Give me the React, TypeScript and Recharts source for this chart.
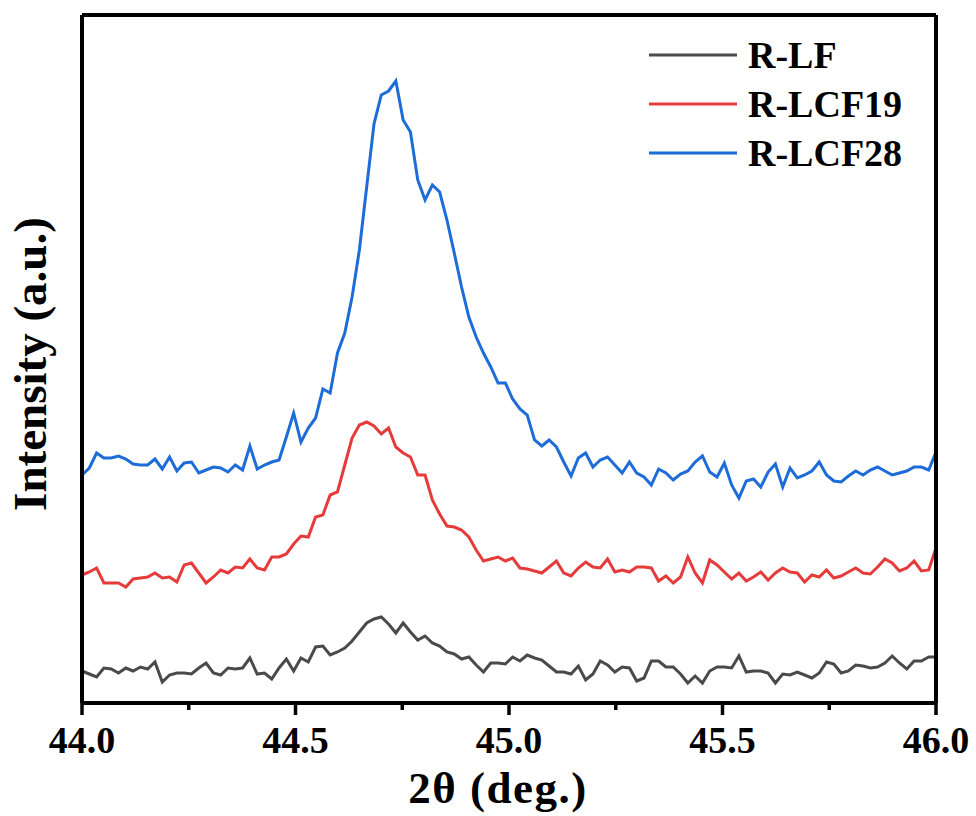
import { LineChart, Line, XAxis, YAxis } from "recharts";

// scan: 44.0 -> 46.0 deg, 118 points
const START = 44.0;
const STEP = 2 / 117;

const rLF = [
  32, 29, 26, 35, 34, 30, 35, 32, 36, 34, 41, 21, 28, 30, 30, 29, 35, 40, 30, 28,
  35, 34, 35, 45, 29, 30, 24, 35, 44, 32, 45, 41, 56, 57, 48, 51, 55, 62, 71, 80,
  84, 86, 79, 70, 80, 71, 63, 67, 60, 57, 51, 49, 44, 46, 38, 31, 40, 40, 39, 46,
  42, 48, 45, 43, 37, 31, 31, 29, 37, 23, 29, 42, 38, 31, 36, 35, 22, 25, 42, 42,
  36, 36, 29, 20, 27, 20, 32, 36, 36, 35, 47, 31, 32, 32, 30, 20, 29, 28, 31, 28,
  25, 30, 41, 39, 30, 32, 38, 37, 35, 36, 40, 47, 40, 34, 42, 42, 46, 46
];

const rLCF19 = [
  128, 131, 135, 120, 120, 120, 116, 124, 125, 126, 130, 125, 126, 121, 138, 140, 130, 120, 126, 133,
  130, 136, 135, 144, 135, 133, 146, 146, 149, 159, 167, 166, 186, 188, 208, 211, 238, 265, 278, 281,
  277, 269, 275, 256, 250, 246, 228, 228, 203, 189, 177, 176, 173, 166, 153, 142, 144, 146, 142, 145,
  135, 134, 132, 130, 136, 142, 130, 127, 135, 141, 136, 135, 144, 131, 133, 131, 136, 136, 135, 122,
  127, 120, 126, 146, 130, 120, 143, 138, 131, 124, 130, 122, 126, 131, 123, 130, 135, 131, 130, 121,
  128, 126, 133, 125, 127, 131, 135, 130, 129, 136, 144, 140, 132, 135, 142, 132, 133, 155
];

const rLCF28 = [
  228, 235, 250, 245, 245, 247, 244, 239, 238, 238, 244, 234, 246, 232, 240, 241, 230, 233, 236, 235,
  231, 238, 233, 257, 234, 238, 241, 243, 266, 290, 261, 275, 285, 314, 310, 350, 370, 406, 453, 516,
  579, 608, 612, 622, 583, 571, 523, 503, 518, 511, 483, 450, 416, 386, 366, 350, 336, 320, 320, 304,
  294, 288, 263, 257, 263, 256, 241, 227, 245, 250, 236, 243, 246, 238, 230, 241, 230, 226, 218, 234,
  230, 223, 229, 232, 241, 247, 231, 226, 240, 218, 205, 222, 224, 216, 231, 239, 216, 235, 225, 228,
  232, 241, 228, 222, 221, 227, 232, 228, 233, 236, 232, 228, 230, 232, 236, 236, 233, 251
];

const xTicks = [44, 44.25, 44.5, 44.75, 45, 45.25, 45.5, 45.75, 46];

const series = [
  { key: "lf", name: "R-LF", color: "#4a4a4a" },
  { key: "lcf19", name: "R-LCF19", color: "#e63b3b" },
  { key: "lcf28", name: "R-LCF28", color: "#1d6cd8" }
];

const data = rLF.map((v, i) => ({
  t: +(START + i * STEP).toFixed(4),
  lf: v,
  lcf19: rLCF19[i],
  lcf28: rLCF28[i]
}));

const FONT = '"Liberation Serif", "Times New Roman", serif';

const XTick = (props: any) => {
  const { x, y, payload } = props;
  const major = Math.abs(payload.value * 2 - Math.round(payload.value * 2)) < 1e-6;
  return (
    <g>
      <line x1={x} y1={y} x2={x} y2={y + (major ? 12 : 7)} stroke="#000" strokeWidth={3.5} />
      {major && (
        <text
          x={x}
          y={y + 50}
          textAnchor="middle"
          fontFamily={FONT}
          fontWeight="bold"
          fontSize={38}
          fill="#000"
        >
          {payload.value.toFixed(1)}
        </text>
      )}
    </g>
  );
};

export default function App() {
  return (
    <div style={{ position: "relative", width: 976, height: 816, background: "#fff" }}>
      <style>{`body{margin:0}`}</style>
      <LineChart
        width={976}
        height={816}
        data={data}
        margin={{ top: 14, right: 39, left: 0, bottom: 0 }}
      >
        <XAxis
          xAxisId="main"
          dataKey="t"
          type="number"
          domain={[44, 46]}
          ticks={xTicks}
          interval={0}
          height={113}
          tickSize={0}
          tickMargin={0}
          tickLine={false}
          tick={<XTick />}
          axisLine={{ stroke: "#000", strokeWidth: 4 }}
          label={{
            content: () => (
              <text
                x={498}
                y={803}
                textAnchor="middle"
                fontFamily={FONT}
                fontWeight="bold"
                fontSize={45}
                letterSpacing={1.5}
                fill="#000"
              >
                2θ (deg.)
              </text>
            )
          }}
        />
        <XAxis
          xAxisId="top"
          dataKey="t"
          type="number"
          domain={[44, 46]}
          orientation="top"
          height={1}
          tick={false}
          tickLine={false}
          axisLine={{ stroke: "#000", strokeWidth: 4 }}
        />
        <YAxis
          yAxisId="main"
          type="number"
          domain={[0, 688]}
          width={82}
          tick={false}
          tickLine={false}
          axisLine={{ stroke: "#000", strokeWidth: 4 }}
          label={{
            content: () => (
              <text
                x={0}
                y={0}
                transform="translate(46, 364) rotate(-90)"
                textAnchor="middle"
                fontFamily={FONT}
                fontWeight="bold"
                fontSize={47}
                fill="#000"
              >
                Intensity (a.u.)
              </text>
            )
          }}
        />
        <YAxis
          yAxisId="right"
          orientation="right"
          type="number"
          domain={[0, 688]}
          width={1}
          tick={false}
          tickLine={false}
          axisLine={{ stroke: "#000", strokeWidth: 4 }}
        />
        {series.map((s) => (
          <Line
            key={s.key}
            xAxisId="main"
            yAxisId="main"
            dataKey={s.key}
            name={s.name}
            stroke={s.color}
            strokeWidth={3}
            dot={false}
            isAnimationActive={false}
          />
        ))}
      </LineChart>

      <div style={{ position: "absolute", left: 648, top: 30 }}>
        {series.map((s) => (
          <div key={s.key} style={{ display: "flex", alignItems: "center", height: 49 }}>
            <svg width={90} height={6} style={{ marginRight: 10 }}>
              <line x1={1} y1={3} x2={89} y2={3} stroke={s.color} strokeWidth={3} />
            </svg>
            <span style={{ fontFamily: FONT, fontWeight: "bold", fontSize: 38, color: "#000" }}>
              {s.name}
            </span>
          </div>
        ))}
      </div>
    </div>
  );
}
